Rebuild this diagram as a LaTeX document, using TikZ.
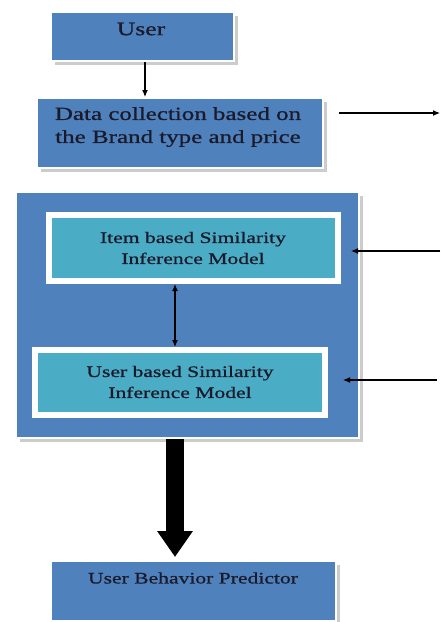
\documentclass[tikz,border=0pt]{standalone}
\usepackage{fontspec}
\setmainfont{Liberation Serif}[FakeStretch=1.35,FakeBold=0.8]
\usetikzlibrary{arrows.meta,shadows}
\definecolor{boxblue}{HTML}{4F81BD}
\definecolor{boxteal}{HTML}{4BACC6}
\definecolor{txt}{HTML}{1A1A2A}
\begin{document}
\begin{tikzpicture}[x=1pt,y=-1pt,
  bluebox/.style={rectangle,fill=boxblue,draw=white,line width=2pt,
    drop shadow={shadow xshift=4pt,shadow yshift=-4pt,fill=black!20,opacity=1}},
  tealbox/.style={rectangle,fill=boxteal,draw=white,line width=6pt,
    drop shadow={shadow xshift=2pt,shadow yshift=-2pt,fill=black!22,opacity=1}},
  lbl/.style={text=txt,inner sep=0pt},
  thinarrow/.style={-{Latex[length=7pt,width=6pt]},line width=1.1pt},
  dblarrow/.style={{Latex[length=7pt,width=6pt]}-{Latex[length=7pt,width=6pt]},line width=1.1pt}
]
\useasboundingbox (0,0) rectangle (440,622);
% boxes
\node[bluebox,minimum width=183pt,minimum height=49pt] (user) at (142.5,36.5) {};
\node[bluebox,minimum width=286pt,minimum height=70pt] (data) at (180,133) {};
\node[bluebox,minimum width=343pt,minimum height=246pt] (big) at (187.5,315) {};
\node[tealbox,minimum width=289pt,minimum height=66pt] (item) at (193.5,248) {};
\node[tealbox,minimum width=290pt,minimum height=65pt] (usim) at (180,382.5) {};
\node[bluebox,minimum width=285pt,minimum height=60pt] (pred) at (193.5,591) {};
% texts
\node[lbl,font=\fontsize{19}{22}\selectfont] (usert) at (141,29) {User};
\node[lbl,align=center,font=\fontsize{18.5}{23}\selectfont] (datat) at (178,127) {Data collection based on\\the Brand type and price};
\node[lbl,align=center,font=\fontsize{16}{21}\selectfont] (itemt) at (193,248) {Item based Similarity\\Inference Model};
\node[lbl,align=center,font=\fontsize{16}{21}\selectfont] (usimt) at (180,382) {User based Similarity\\Inference Model};
\node[lbl,font=\fontsize{16}{20}\selectfont] (predt) at (193,578) {User Behavior Predictor};
% connectors
\coordinate (ux) at (145,0);
\coordinate (dx) at (175,0);
\coordinate (o1) at (440,113);
\coordinate (i1) at (440,251);
\coordinate (i2) at (437,380);
\draw[thinarrow] (user.south -| ux) -- (data.north -| ux);
\draw[thinarrow] ([xshift=15pt]data.east |- o1) -- (o1);
\draw[thinarrow] (i1) -- ([xshift=10pt]item.east |- i1);
\draw[thinarrow] (i2) -- ([xshift=15pt]usim.east |- i2);
\draw[dblarrow] (item.south -| dx) -- (usim.north -| dx);
\draw[line width=18pt,-{Triangle[width=34pt,length=26pt]}] (big.south -| dx) -- ([yshift=3pt]pred.north -| dx);
\end{tikzpicture}
\end{document}
